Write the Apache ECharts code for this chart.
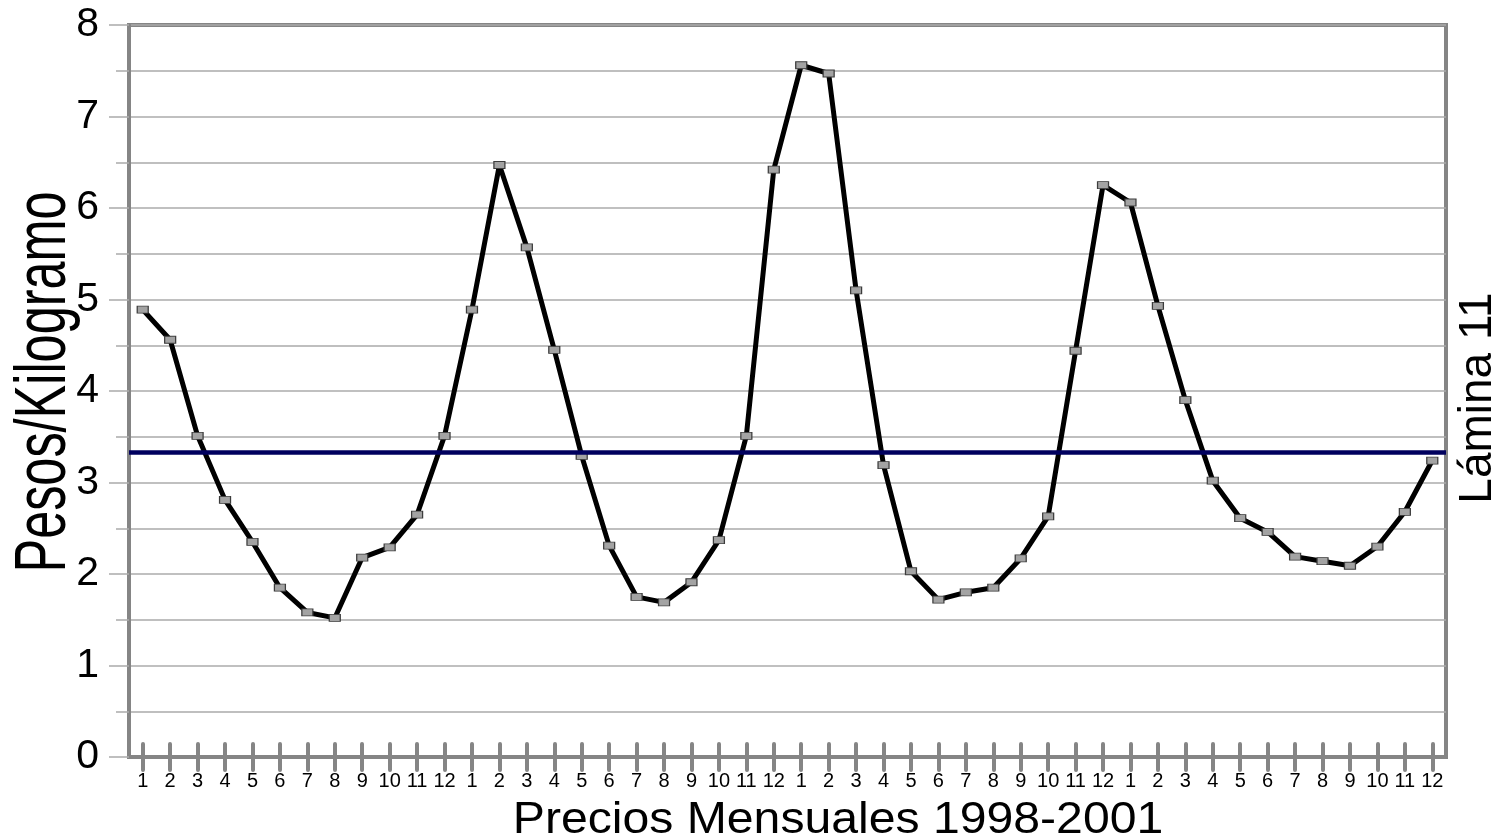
<!DOCTYPE html>
<html>
<head>
<meta charset="utf-8">
<title>Precios Mensuales 1998-2001</title>
<script src="https://cdn.jsdelivr.net/npm/echarts@6/dist/echarts.min.js"></script>
<style>
  html, body { margin: 0; padding: 0; background: #ffffff; }
  #chart { width: 1506px; height: 839px; }
</style>
</head>
<body>
<div id="chart"></div>
<script>
// Month tick labels (one year) and the years shown on the axis
const meses = ['1', '2', '3', '4', '5', '6', '7', '8', '9', '10', '11', '12'];
const anios = [1998, 1999, 2000, 2001];

// Monthly price, pesos per kilogram
const precios1998 = [4.89, 4.56, 3.51, 2.81, 2.35, 1.85, 1.58, 1.52, 2.18, 2.29, 2.65, 3.51];
const precios1999 = [4.89, 6.47, 5.57, 4.45, 3.29, 2.31, 1.75, 1.69, 1.91, 2.37, 3.51, 6.42];
const precios2000 = [7.56, 7.47, 5.10, 3.19, 2.03, 1.72, 1.80, 1.85, 2.17, 2.63, 4.44, 6.25];
const precios2001 = [6.06, 4.93, 3.90, 3.02, 2.61, 2.46, 2.19, 2.14, 2.09, 2.30, 2.68, 3.24];

// Average price over the period (horizontal reference line)
const promedio = 3.33;

// Value axis tick labels
const valoresY = ['0', '1', '2', '3', '4', '5', '6', '7', '8'];

const categorias = [];
anios.forEach(() => meses.forEach(m => categorias.push(m)));
const precios = [].concat(precios1998, precios1999, precios2000, precios2001);

const FONT = "'Liberation Sans', Arial, sans-serif";
const GRIS_EJE = '#858585';
const GRIS_REJILLA = '#ababab';

const chart = echarts.init(document.getElementById('chart'), null, { renderer: 'canvas' });

chart.setOption({
  animation: false,
  backgroundColor: '#ffffff',
  grid: {
    left: 129, right: 60, top: 25, bottom: 82,
    show: true,
    borderColor: GRIS_EJE,
    borderWidth: 4,
    backgroundColor: 'transparent'
  },
  xAxis: [
    {
      type: 'category',
      data: categorias,
      boundaryGap: true,
      position: 'bottom',
      axisLine: { show: true, lineStyle: { color: GRIS_EJE, width: 4 } },
      axisTick: {
        show: true, alignWithLabel: true, interval: 0, length: 13,
        lineStyle: { color: GRIS_EJE, width: 4, cap: 'round' }
      },
      axisLabel: {
        show: true, interval: 0, margin: 14,
        fontFamily: FONT, fontSize: 20, color: '#000000'
      },
      splitLine: { show: false }
    },
    {
      // upper half of the crossing tick marks on the category axis
      type: 'category',
      data: categorias,
      boundaryGap: true,
      position: 'bottom',
      axisLine: { show: false },
      axisTick: {
        show: true, inside: true, alignWithLabel: true, interval: 0, length: 13,
        lineStyle: { color: GRIS_EJE, width: 4, cap: 'round' }
      },
      axisLabel: { show: false },
      splitLine: { show: false }
    }
  ],
  yAxis: {
    type: 'value',
    min: 0, max: 8, interval: 1,
    axisLine: { show: true, lineStyle: { color: GRIS_EJE, width: 4 } },
    axisTick: { show: true, length: 20, lineStyle: { color: GRIS_REJILLA, width: 1.5 } },
    minorTick: { show: true, splitNumber: 2, length: 13, lineStyle: { color: GRIS_REJILLA, width: 1.5 } },
    splitLine: { show: true, lineStyle: { color: GRIS_REJILLA, width: 1.5 } },
    minorSplitLine: { show: true, lineStyle: { color: GRIS_REJILLA, width: 1.5 } },
    axisLabel: {
      margin: 30,
      fontFamily: FONT, fontSize: 41, color: '#000000',
      formatter: v => valoresY[Math.round(v)]
    }
  },
  series: [
    {
      name: 'Promedio',
      type: 'line',
      data: [],
      z: 1,
      markLine: {
        silent: true,
        symbol: ['none', 'none'],
        label: { show: false },
        lineStyle: { color: '#00005e', width: 4.5, type: 'solid' },
        data: [{ yAxis: promedio }]
      }
    },
    {
      name: 'Precio',
      type: 'line',
      data: precios,
      z: 3,
      xAxisIndex: 0,
      symbol: 'rect',
      symbolSize: [11, 7],
      showSymbol: true,
      lineStyle: { color: '#000000', width: 5, join: 'round' },
      itemStyle: { color: '#a3a3a3', borderColor: '#3c3c3c', borderWidth: 1 }
    }
  ],
  graphic: [
    {
      type: 'text',
      x: 838, y: 821,
      scaleX: 1.07,
      style: {
        text: 'Precios Mensuales 1998-2001',
        font: '45px ' + FONT,
        fill: '#000000',
        textAlign: 'center',
        textVerticalAlign: 'middle'
      }
    },
    {
      type: 'text',
      x: 45, y: 382,
      rotation: Math.PI / 2,
      scaleX: 0.70,
      style: {
        text: 'Pesos/Kilogramo',
        font: '72px ' + FONT,
        fill: '#000000',
        textAlign: 'center',
        textVerticalAlign: 'middle'
      }
    },
    {
      type: 'text',
      x: 1478, y: 398,
      rotation: Math.PI / 2,
      style: {
        text: 'Lámina 11',
        font: '46px ' + FONT,
        fill: '#000000',
        textAlign: 'center',
        textVerticalAlign: 'middle'
      }
    }
  ]
});
</script>
</body>
</html>
